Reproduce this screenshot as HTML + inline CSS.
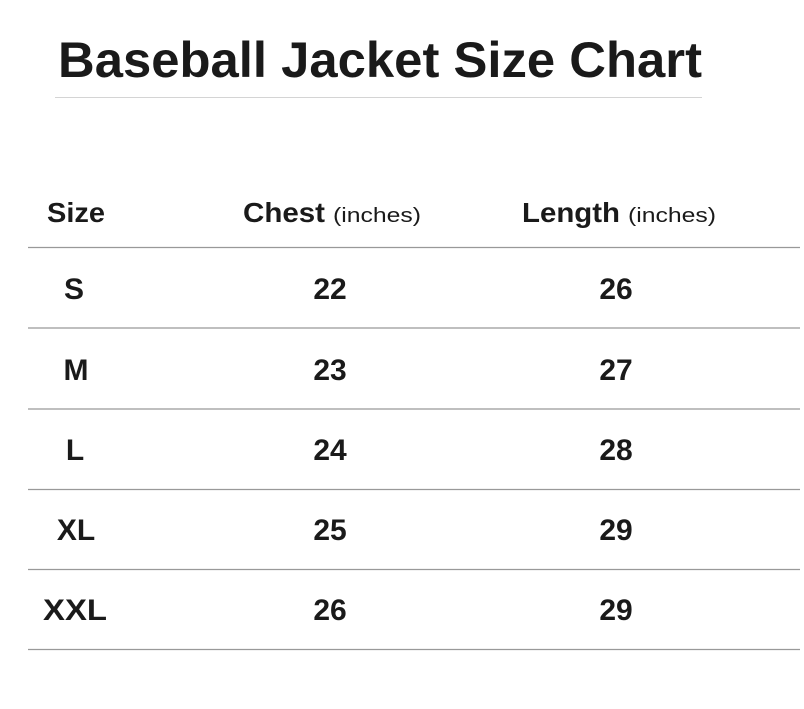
<!DOCTYPE html>
<html><head><meta charset="utf-8"><style>
html,body{margin:0;padding:0;background:#fff;}
svg{display:block;}
text{font-family:"Liberation Sans",sans-serif;fill:#1a1a1a;}
</style></head><body>
<svg width="804" height="709" viewBox="0 0 804 709" xmlns="http://www.w3.org/2000/svg">
<text x="58" y="77" font-size="50" font-weight="bold" textLength="644" lengthAdjust="spacingAndGlyphs">Baseball Jacket Size Chart</text>
<line x1="55" y1="97.5" x2="702" y2="97.5" stroke="#d4d4d4" stroke-width="1"/>
<text x="47" y="222" font-size="28" font-weight="bold" textLength="58" lengthAdjust="spacingAndGlyphs">Size</text>
<text x="243" y="222" font-size="28" font-weight="bold" textLength="82" lengthAdjust="spacingAndGlyphs">Chest</text>
<text x="333" y="222" font-size="20" textLength="88" lengthAdjust="spacingAndGlyphs">(inches)</text>
<text x="522" y="222" font-size="28" font-weight="bold" textLength="98" lengthAdjust="spacingAndGlyphs">Length</text>
<text x="628" y="222" font-size="20" textLength="88" lengthAdjust="spacingAndGlyphs">(inches)</text>
<g stroke="#999" stroke-width="1.3">
<line x1="28" y1="247.5" x2="800" y2="247.5"/>
<line x1="28" y1="328" x2="800" y2="328"/>
<line x1="28" y1="409" x2="800" y2="409"/>
<line x1="28" y1="489.5" x2="800" y2="489.5"/>
<line x1="28" y1="569.5" x2="800" y2="569.5"/>
<line x1="28" y1="649.5" x2="800" y2="649.5"/>
</g>
<g font-size="30" font-weight="bold" text-anchor="middle">
<text x="74" y="299">S</text><text x="330" y="299">22</text><text x="616" y="299">26</text>
<text x="76" y="380">M</text><text x="330" y="380">23</text><text x="616" y="380">27</text>
<text x="75" y="460">L</text><text x="330" y="460">24</text><text x="616" y="460">28</text>
<text x="76" y="540">XL</text><text x="330" y="540">25</text><text x="616" y="540">29</text>
<text x="75" y="620" textLength="64" lengthAdjust="spacingAndGlyphs">XXL</text><text x="330" y="620">26</text><text x="616" y="620">29</text>
</g>
</svg>
</body></html>
